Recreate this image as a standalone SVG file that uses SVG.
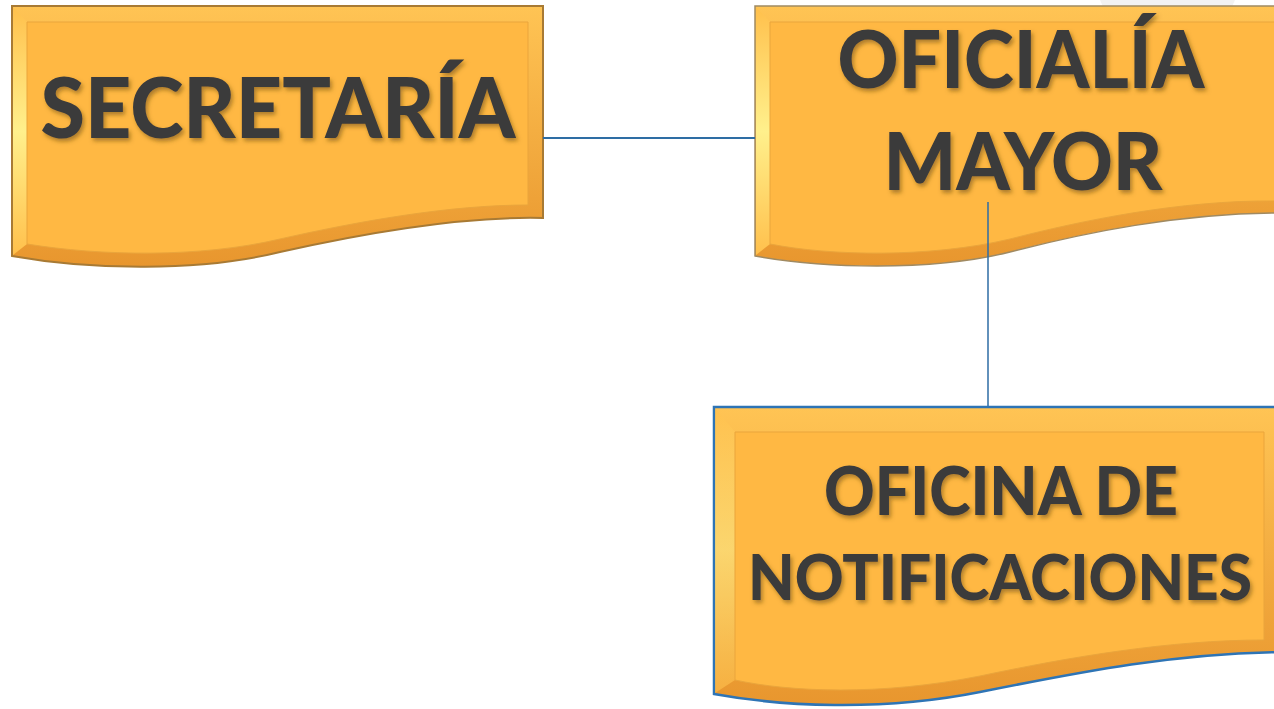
<svg xmlns="http://www.w3.org/2000/svg" width="1274" height="709" viewBox="0 0 1274 709">
<defs>
<linearGradient id="bev" x1="0" y1="0" x2="0" y2="1">
<stop offset="0" stop-color="#ffc454"/>
<stop offset="1" stop-color="#e8962e"/>
</linearGradient>
<linearGradient id="hl" x1="0" y1="0" x2="0" y2="1">
<stop offset="0" stop-color="#ffc04c"/>
<stop offset="0.5" stop-color="#fff08c"/>
<stop offset="1" stop-color="#ffc04c"/>
</linearGradient>
<filter id="ts" x="-1%" y="-20%" width="103%" height="150%">
<feDropShadow dx="2" dy="3" stdDeviation="2" flood-color="#6b4c0c" flood-opacity="0.55"/>
</filter>
</defs>
<style>
.face{fill:#ffb843;stroke:#eaa53c;stroke-width:1}
.lbl{font-family:Lato,"Open Sans","Liberation Sans",sans-serif;font-weight:900;fill:#3b3b3b;text-anchor:middle;filter:url(#ts)}
.conn{fill:none;stroke:#2e6da4}
</style>
<rect width="1274" height="709" fill="#ffffff"/>
<polygon points="1100,0 1235,0 1225,22 1110,22" fill="#f2f2f2"/>

<g id="secretaria">
<path d="M12,6 H543 V218 C460,216 360,234 280,252 C200,272 90,270 12,256 Z" fill="url(#bev)" stroke="#a87a34" stroke-width="2"/>
<polygon points="13,7 27,22 27,244 13,255" fill="url(#hl)"/>
<path class="face" d="M27,22 H528 V205 C450,205 360,221 280,239 C200,258 100,256 27,244 Z"/>
<text class="lbl" x="278" y="138" font-size="83" textLength="475" lengthAdjust="spacingAndGlyphs">SECRETARÍA</text>
</g>

<g id="oficialia">
<path d="M755,6 H1290 V213 C1180,212 1080,234 1010,252 C930,272 820,268 755,256 Z" fill="url(#bev)" stroke="#a08a62" stroke-width="1.5"/>
<polygon points="756,7 770,22 770,244 756,255" fill="url(#hl)"/>
<path class="face" d="M770,22 H1275 V201 C1180,200 1080,221 1010,239 C930,258 830,256 770,244 Z"/>
<text class="lbl" x="1021" y="88" font-size="80" textLength="367" lengthAdjust="spacingAndGlyphs">OFICIALÍA</text>
<text class="lbl" x="1023" y="190" font-size="80" textLength="279" lengthAdjust="spacingAndGlyphs">MAYOR</text>
</g>

<g id="connectors">
<line class="conn" x1="543" y1="138" x2="755" y2="138" stroke-width="2"/>
<line class="conn" x1="988" y1="202" x2="988" y2="407" stroke="#41698f" stroke-width="1.5"/>
</g>

<g id="oficina">
<path d="M714,407 H1290 V652 C1180,652 1080,672 980,692 C880,712 780,706 714,694 Z" fill="url(#bev)" stroke="#2e74b5" stroke-width="2.5"/>
<polygon points="715,408 735,432 735,680 715,693" fill="url(#hl)" opacity="0.6"/>
<path class="face" d="M735,432 H1264 V640 C1170,640 1070,657 980,676 C880,696 790,692 735,680 Z"/>
<text class="lbl" x="1001" y="515" font-size="66" textLength="354" lengthAdjust="spacingAndGlyphs">OFICINA DE</text>
<text class="lbl" x="1000" y="600" font-size="62" textLength="504" lengthAdjust="spacingAndGlyphs">NOTIFICACIONES</text>
</g>
</svg>
